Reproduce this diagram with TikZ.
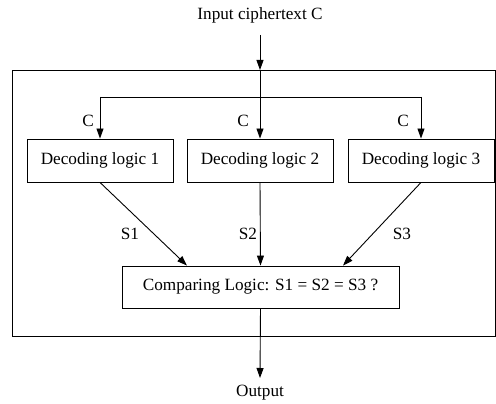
\documentclass[tikz,border=0pt]{standalone}
\usepackage{fontspec}
\setmainfont{Liberation Serif}
\usetikzlibrary{arrows.meta}
\begin{document}
\begin{tikzpicture}[x=1pt,y=-1pt,
  every node/.style={font=\fontsize{17.2}{20}\selectfont},
  blk/.style={draw,line width=0.9pt,inner sep=0pt},
  lbl/.style={inner sep=0pt},
  arr/.style={line width=0.9pt,-{Triangle[length=10pt,width=7pt]}},
  ln/.style={line width=0.9pt}]
\useasboundingbox (0,0) rectangle (496,404);
\node[lbl] (in) at (260,15) {Input ciphertext C};
\draw[line width=0.9pt] (12,70) rectangle (495.5,336);
\node[blk,minimum width=146pt,minimum height=43pt] (d1) at (100,160.5) {Decoding logic 1};
\node[blk,minimum width=146pt,minimum height=43pt] (d2) at (260,160.5) {Decoding logic 2};
\node[blk,minimum width=146pt,minimum height=43pt] (d3) at (421,160.5) {Decoding logic 3};
\node[blk,minimum width=277pt,minimum height=42pt] (cmp) at (260.5,287) {Comparing Logic: S1 = S2 = S3 ?};
\node[lbl] (out) at (260,393) {Output};
\coordinate (top) at (260,35);
\coordinate (entry) at (260,70);
\coordinate (b1) at (100,97);
\coordinate (b3) at (421,97);
\draw[arr] (top) -- (entry);
\draw[arr] (entry) -- (d2.north);
\draw[ln] (b1) -- (b3);
\draw[arr] (b1) -- (d1.north);
\draw[arr] (b3) -- (d3.north);
\node[lbl] (c1) at (88,121) {C};
\node[lbl] (c2) at (243,121) {C};
\node[lbl] (c3) at (403,121) {C};
\draw[arr] (d1.south) -- (cmp.north -| 187,0);
\draw[arr] (d2.south) -- (cmp.north);
\draw[arr] (d3.south) -- (cmp.north -| 343,0);
\node[lbl] (s1) at (130,234) {S1};
\node[lbl] (s2) at (248,234) {S2};
\node[lbl] (s3) at (402,234) {S3};
\coordinate (oend) at (260,378);
\draw[arr] (cmp.south) -- (oend);
\end{tikzpicture}
\end{document}
